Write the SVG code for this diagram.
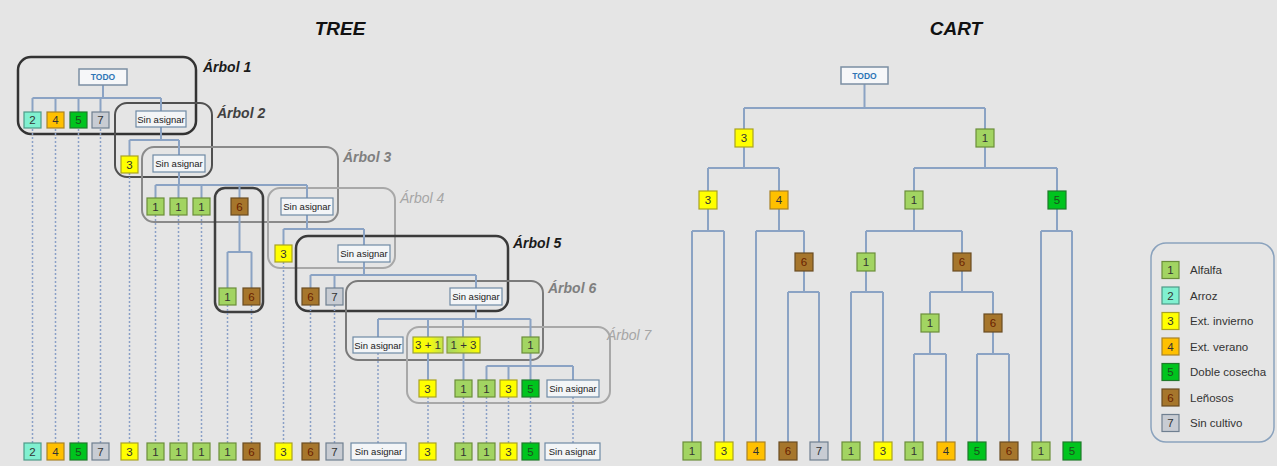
<svg xmlns="http://www.w3.org/2000/svg" width="1277" height="466" viewBox="0 0 1277 466">
<style>
text{font-family:"Liberation Sans",Arial,sans-serif}
.bg{fill:#e5e5e5}
.t{font-size:11.5px;fill:#333;text-anchor:middle;dominant-baseline:central}
.ts{font-size:9.5px;fill:#222;text-anchor:middle;dominant-baseline:central}
.todo{font-size:8.5px;font-weight:bold;fill:#2e75b6;text-anchor:middle;dominant-baseline:central}
.title{font-size:19px;font-weight:bold;font-style:italic;fill:#111;text-anchor:middle}
.arb{font-size:14px;font-style:italic;font-weight:bold}
.leg{font-size:11.5px;fill:#333;dominant-baseline:central}
rect.b1{fill:#a2d462;stroke:#6b8e3a;stroke-width:1.2}
rect.b2{fill:#80f0d0;stroke:#4d9a88;stroke-width:1.2}
rect.b3{fill:#ffff00;stroke:#aaa320;stroke-width:1.2}
rect.b4{fill:#ffc000;stroke:#a88226;stroke-width:1.2}
rect.b5{fill:#00c41e;stroke:#1f7a2a;stroke-width:1.2}
rect.b6{fill:#a6762c;stroke:#6a4c22;stroke-width:1.2}
rect.b7{fill:#c8ccd3;stroke:#6f7f90;stroke-width:1.2}
rect.sa{fill:#f3f5f7;stroke:#6f8aa5;stroke-width:1.2}
rect.td{fill:#f6f7f9;stroke:#7b8ea3;stroke-width:1.5}
.t6{fill:#6a1e00}
.t5{fill:#1d4d1d}
.grp{fill:none}
.con path{fill:none;stroke:#8ba3c4;stroke-width:2}
.con path.dot{stroke:#8aa0c6;stroke-width:1.5;stroke-dasharray:2 2}
</style>
<defs>
<linearGradient id="g31" x1="0" x2="1" y1="0" y2="0"><stop offset="0" stop-color="#ffff00"/><stop offset="0.55" stop-color="#f4fa10"/><stop offset="1" stop-color="#c4e44c"/></linearGradient>
<linearGradient id="g13" x1="0" x2="1" y1="0" y2="0"><stop offset="0" stop-color="#a2d462"/><stop offset="0.5" stop-color="#cce83c"/><stop offset="1" stop-color="#ffff00"/></linearGradient>
</defs>
<rect class="bg" x="0" y="0" width="1277" height="466"/>

<text class="title" x="340" y="35">TREE</text>
<text class="title" x="956" y="35">CART</text>

<g id="frames">
<rect class="grp" x="18" y="57" width="178" height="77" rx="13" stroke="#333" stroke-width="2.5"/>
<rect class="grp" x="115" y="103" width="97" height="74" rx="12" stroke="#505050" stroke-width="2"/>
<rect class="grp" x="142" y="147" width="196" height="75" rx="12" stroke="#8a8a8a" stroke-width="2"/>
<rect class="grp" x="215" y="188" width="48" height="124" rx="10" stroke="#3f3f3f" stroke-width="2.5"/>
<rect class="grp" x="268" y="188" width="127" height="80" rx="12" stroke="#a8a8a8" stroke-width="2"/>
<rect class="grp" x="296" y="236" width="212" height="75" rx="12" stroke="#3a3a3a" stroke-width="2.5"/>
<rect class="grp" x="346" y="281" width="197" height="79" rx="12" stroke="#7a7a7a" stroke-width="2"/>
<rect class="grp" x="407" y="327" width="203" height="76" rx="12" stroke="#a8a8a8" stroke-width="2"/>
<text class="arb" x="203" y="72" fill="#1a1a1a">Árbol 1</text>
<text class="arb" x="217" y="118" fill="#404040">Árbol 2</text>
<text class="arb" x="343" y="162" fill="#7f7f7f">Árbol 3</text>
<text class="arb" x="400" y="203" fill="#a6a6a6" style="font-weight:normal">Árbol 4</text>
<text class="arb" x="513" y="248" fill="#1a1a1a">Árbol 5</text>
<text class="arb" x="548" y="293" fill="#7f7f7f">Árbol 6</text>
<text class="arb" x="607" y="340" fill="#a6a6a6" style="font-weight:normal">Árbol 7</text>
</g>

<g id="connectors" class="con">
<path d="M103 85V98M32.5 98H161M32.5 98V112M55.5 98V112M78.5 98V112M100.5 98V112M161 98V111"/>
<path d="M161 127V140M129.5 140H179M129.5 140V156M179 140V155"/>
<path d="M179 172V185M155.5 185H307M155.5 185V198M178.5 185V198M201.5 185V198M239.5 185V198M307 185V198"/>
<path d="M239.5 215V252M227.5 252H251.5M227.5 252V288M251.5 252V288"/>
<path d="M307 215V229M283.5 229H364M283.5 229V245M364 229V245"/>
<path d="M364 262V275M310.5 275H476M310.5 275V288M334.5 275V288M476 275V288"/>
<path d="M476 305V319M378 319H530.5M378 319V337M428 319V337M463 319V337M530.5 319V337"/>
<path d="M428 353V380M463.5 353V380M530.5 353V380M486.5 366H573M486.5 366V380M508.5 366V380M573 366V380"/>
<path class="dot" d="M32.5 129V443M55.5 129V443M78.5 129V443M100.5 129V443M129.5 173V443M155.5 215V443M178.5 215V443M201.5 215V443M227.5 305V443M251.5 305V443M283.5 262V443M310.5 305V443M334.5 305V443M378 353V443M428 397V443M463.5 397V443M486.5 397V443M508.5 397V443M530.5 397V443M573 397V443"/>
<path d="M864.5 84V108M744 108H985M744 108V129M985 108V129"/>
<path d="M744 147V168M708 168H779M708 168V191M779 168V191"/>
<path d="M985 147V168M914 168H1057M914 168V191M1057 168V191"/>
<path d="M708 209V231M692 231H724M692 231V442M724 231V442"/>
<path d="M779 209V231M756 231H804M756 231V442M804 231V253"/>
<path d="M804 271V292M788 292H819M788 292V442M819 292V442"/>
<path d="M914 209V231M866 231H962M866 231V253M962 231V253"/>
<path d="M866 271V292M851 292H883M851 292V442M883 292V442"/>
<path d="M962 271V292M930 292H993M930 292V314M993 292V314"/>
<path d="M930 332V354M914 354H946M914 354V442M946 354V442"/>
<path d="M993 332V354M977 354H1009M977 354V442M1009 354V442"/>
<path d="M1057 209V231M1041 231H1072M1041 231V442M1072 231V442"/>
</g>

<g id="tree-todo"><rect class="td" x="79" y="69" width="48" height="16"/><text class="todo" x="103" y="77">TODO</text></g>
<g id="a1-2"><rect class="b2" x="24" y="112" width="17" height="16"/><text class="t" x="32.5" y="120">2</text></g>
<g id="a1-4"><rect class="b4" x="47" y="112" width="17" height="16"/><text class="t" x="55.5" y="120">4</text></g>
<g id="a1-5"><rect class="b5" x="70" y="112" width="17" height="16"/><text class="t t5" x="78.5" y="120">5</text></g>
<g id="a1-7"><rect class="b7" x="92" y="112" width="17" height="16"/><text class="t" x="100.5" y="120">7</text></g>
<g id="a1-sa"><rect class="sa" x="136" y="111" width="50" height="16"/><text class="ts" x="161" y="119">Sin asignar</text></g>

<g id="a2-3"><rect class="b3" x="121" y="156" width="17" height="17"/><text class="t" x="129.5" y="164.5">3</text></g>
<g id="a2-sa"><rect class="sa" x="153" y="155" width="52" height="17"/><text class="ts" x="179" y="163.5">Sin asignar</text></g>

<g id="a3-1a"><rect class="b1" x="147" y="198" width="17" height="17"/><text class="t" x="155.5" y="206.5">1</text></g>
<g id="a3-1b"><rect class="b1" x="170" y="198" width="17" height="17"/><text class="t" x="178.5" y="206.5">1</text></g>
<g id="a3-1c"><rect class="b1" x="193" y="198" width="17" height="17"/><text class="t" x="201.5" y="206.5">1</text></g>
<g id="a3-6"><rect class="b6" x="231" y="198" width="17" height="17"/><text class="t t6" x="239.5" y="206.5">6</text></g>
<g id="a3-sa"><rect class="sa" x="281" y="198" width="52" height="17"/><text class="ts" x="307" y="206.5">Sin asignar</text></g>

<g id="s6-1"><rect class="b1" x="219" y="288" width="17" height="17"/><text class="t" x="227.5" y="296.5">1</text></g>
<g id="s6-6"><rect class="b6" x="243" y="288" width="17" height="17"/><text class="t t6" x="251.5" y="296.5">6</text></g>

<g id="a4-3"><rect class="b3" x="275" y="245" width="17" height="17"/><text class="t" x="283.5" y="253.5">3</text></g>
<g id="a4-sa"><rect class="sa" x="338" y="245" width="52" height="17"/><text class="ts" x="364" y="253.5">Sin asignar</text></g>

<g id="a5-6"><rect class="b6" x="302" y="288" width="17" height="17"/><text class="t t6" x="310.5" y="296.5">6</text></g>
<g id="a5-7"><rect class="b7" x="326" y="288" width="17" height="17"/><text class="t" x="334.5" y="296.5">7</text></g>
<g id="a5-sa"><rect class="sa" x="450" y="288" width="52" height="17"/><text class="ts" x="476" y="296.5">Sin asignar</text></g>

<g id="a6-sa"><rect class="sa" x="353" y="337" width="50" height="16"/><text class="ts" x="378" y="345">Sin asignar</text></g>
<g id="a6-31"><rect x="413" y="337" width="30" height="16" fill="url(#g31)" stroke="#9aa33a" stroke-width="1.2"/><text class="t" x="428" y="345">3 + 1</text></g>
<g id="a6-13"><rect x="447" y="337" width="33" height="16" fill="url(#g13)" stroke="#8a9a3a" stroke-width="1.2"/><text class="t" x="463.5" y="345">1 + 3</text></g>
<g id="a6-1"><rect class="b1" x="522" y="337" width="17" height="16"/><text class="t" x="530.5" y="345">1</text></g>

<g id="a7-3"><rect class="b3" x="419" y="380" width="17" height="17"/><text class="t" x="427.5" y="388.5">3</text></g>
<g id="a7-1a"><rect class="b1" x="455" y="380" width="17" height="17"/><text class="t" x="463.5" y="388.5">1</text></g>
<g id="a7-1b"><rect class="b1" x="478" y="380" width="17" height="17"/><text class="t" x="486.5" y="388.5">1</text></g>
<g id="a7-3b"><rect class="b3" x="500" y="380" width="17" height="17"/><text class="t" x="508.5" y="388.5">3</text></g>
<g id="a7-5"><rect class="b5" x="522" y="380" width="17" height="17"/><text class="t t5" x="530.5" y="388.5">5</text></g>
<g id="a7-sa"><rect class="sa" x="547" y="380" width="52" height="17"/><text class="ts" x="573" y="388.5">Sin asignar</text></g>

<g id="tl-1"><rect class="b2" x="24" y="443" width="17" height="17"/><text class="t" x="32.5" y="451.5">2</text></g>
<g id="tl-2"><rect class="b4" x="47" y="443" width="17" height="17"/><text class="t" x="55.5" y="451.5">4</text></g>
<g id="tl-3"><rect class="b5" x="70" y="443" width="17" height="17"/><text class="t t5" x="78.5" y="451.5">5</text></g>
<g id="tl-4"><rect class="b7" x="92" y="443" width="17" height="17"/><text class="t" x="100.5" y="451.5">7</text></g>
<g id="tl-5"><rect class="b3" x="121" y="443" width="17" height="17"/><text class="t" x="129.5" y="451.5">3</text></g>
<g id="tl-6"><rect class="b1" x="147" y="443" width="17" height="17"/><text class="t" x="155.5" y="451.5">1</text></g>
<g id="tl-7"><rect class="b1" x="170" y="443" width="17" height="17"/><text class="t" x="178.5" y="451.5">1</text></g>
<g id="tl-8"><rect class="b1" x="193" y="443" width="17" height="17"/><text class="t" x="201.5" y="451.5">1</text></g>
<g id="tl-9"><rect class="b1" x="219" y="443" width="17" height="17"/><text class="t" x="227.5" y="451.5">1</text></g>
<g id="tl-10"><rect class="b6" x="243" y="443" width="17" height="17"/><text class="t t6" x="251.5" y="451.5">6</text></g>
<g id="tl-11"><rect class="b3" x="275" y="443" width="17" height="17"/><text class="t" x="283.5" y="451.5">3</text></g>
<g id="tl-12"><rect class="b6" x="302" y="443" width="17" height="17"/><text class="t t6" x="310.5" y="451.5">6</text></g>
<g id="tl-13"><rect class="b7" x="326" y="443" width="17" height="17"/><text class="t" x="334.5" y="451.5">7</text></g>
<g id="tl-14"><rect class="sa" x="351" y="443" width="55" height="17"/><text class="ts" x="378.5" y="451.5">Sin asignar</text></g>
<g id="tl-15"><rect class="b3" x="419" y="443" width="17" height="17"/><text class="t" x="427.5" y="451.5">3</text></g>
<g id="tl-16"><rect class="b1" x="455" y="443" width="17" height="17"/><text class="t" x="463.5" y="451.5">1</text></g>
<g id="tl-17"><rect class="b1" x="478" y="443" width="17" height="17"/><text class="t" x="486.5" y="451.5">1</text></g>
<g id="tl-18"><rect class="b3" x="500" y="443" width="17" height="17"/><text class="t" x="508.5" y="451.5">3</text></g>
<g id="tl-19"><rect class="b5" x="522" y="443" width="17" height="17"/><text class="t t5" x="530.5" y="451.5">5</text></g>
<g id="tl-20"><rect class="sa" x="545" y="443" width="55" height="17"/><text class="ts" x="572.5" y="451.5">Sin asignar</text></g>

<g id="cart-todo"><rect class="td" x="841" y="67" width="47" height="17"/><text class="todo" x="864.5" y="75.5">TODO</text></g>
<g id="c-3"><rect class="b3" x="735" y="129" width="18" height="18"/><text class="t" x="744" y="138">3</text></g>
<g id="c-1"><rect class="b1" x="976" y="129" width="18" height="18"/><text class="t" x="985" y="138">1</text></g>
<g id="c-3a"><rect class="b3" x="699" y="191" width="18" height="18"/><text class="t" x="708" y="200">3</text></g>
<g id="c-4"><rect class="b4" x="770" y="191" width="18" height="18"/><text class="t" x="779" y="200">4</text></g>
<g id="c-1a"><rect class="b1" x="905" y="191" width="18" height="18"/><text class="t" x="914" y="200">1</text></g>
<g id="c-5"><rect class="b5" x="1048" y="191" width="18" height="18"/><text class="t t5" x="1057" y="200">5</text></g>
<g id="c-6a"><rect class="b6" x="795" y="253" width="18" height="18"/><text class="t t6" x="804" y="262">6</text></g>
<g id="c-1b"><rect class="b1" x="857" y="253" width="18" height="18"/><text class="t" x="866" y="262">1</text></g>
<g id="c-6b"><rect class="b6" x="953" y="253" width="18" height="18"/><text class="t t6" x="962" y="262">6</text></g>
<g id="c-1c"><rect class="b1" x="921" y="314" width="18" height="18"/><text class="t" x="930" y="323">1</text></g>
<g id="c-6c"><rect class="b6" x="984" y="314" width="18" height="18"/><text class="t t6" x="993" y="323">6</text></g>

<g id="cl-1"><rect class="b1" x="683" y="442" width="18" height="18"/><text class="t" x="692" y="451">1</text></g>
<g id="cl-2"><rect class="b3" x="715" y="442" width="18" height="18"/><text class="t" x="724" y="451">3</text></g>
<g id="cl-3"><rect class="b4" x="747" y="442" width="18" height="18"/><text class="t" x="756" y="451">4</text></g>
<g id="cl-4"><rect class="b6" x="779" y="442" width="18" height="18"/><text class="t t6" x="788" y="451">6</text></g>
<g id="cl-5"><rect class="b7" x="810" y="442" width="18" height="18"/><text class="t" x="819" y="451">7</text></g>
<g id="cl-6"><rect class="b1" x="842" y="442" width="18" height="18"/><text class="t" x="851" y="451">1</text></g>
<g id="cl-7"><rect class="b3" x="874" y="442" width="18" height="18"/><text class="t" x="883" y="451">3</text></g>
<g id="cl-8"><rect class="b1" x="905" y="442" width="18" height="18"/><text class="t" x="914" y="451">1</text></g>
<g id="cl-9"><rect class="b4" x="937" y="442" width="18" height="18"/><text class="t" x="946" y="451">4</text></g>
<g id="cl-10"><rect class="b5" x="968" y="442" width="18" height="18"/><text class="t t5" x="977" y="451">5</text></g>
<g id="cl-11"><rect class="b6" x="1000" y="442" width="18" height="18"/><text class="t t6" x="1009" y="451">6</text></g>
<g id="cl-12"><rect class="b1" x="1032" y="442" width="18" height="18"/><text class="t" x="1041" y="451">1</text></g>
<g id="cl-13"><rect class="b5" x="1063" y="442" width="18" height="18"/><text class="t t5" x="1072" y="451">5</text></g>

<g id="legend">
<rect x="1151" y="243" width="123" height="199" rx="15" fill="none" stroke="#8aa2bd" stroke-width="1.5"/>
<rect class="b1" x="1162" y="261.5" width="17" height="17"/><text class="t" x="1170.5" y="270">1</text><text class="leg" x="1190" y="270">Alfalfa</text>
<rect class="b2" x="1162" y="287" width="17" height="17"/><text class="t" x="1170.5" y="295.5">2</text><text class="leg" x="1190" y="295.5">Arroz</text>
<rect class="b3" x="1162" y="312.5" width="17" height="17"/><text class="t" x="1170.5" y="321">3</text><text class="leg" x="1190" y="321">Ext. invierno</text>
<rect class="b4" x="1162" y="338" width="17" height="17"/><text class="t" x="1170.5" y="346.5">4</text><text class="leg" x="1190" y="346.5">Ext. verano</text>
<rect class="b5" x="1162" y="363.5" width="17" height="17"/><text class="t t5" x="1170.5" y="372">5</text><text class="leg" x="1190" y="372">Doble cosecha</text>
<rect class="b6" x="1162" y="389" width="17" height="17"/><text class="t t6" x="1170.5" y="397.5">6</text><text class="leg" x="1190" y="397.5">Leñosos</text>
<rect class="b7" x="1162" y="414.5" width="17" height="17"/><text class="t" x="1170.5" y="423">7</text><text class="leg" x="1190" y="423">Sin cultivo</text>
</g>
</svg>
